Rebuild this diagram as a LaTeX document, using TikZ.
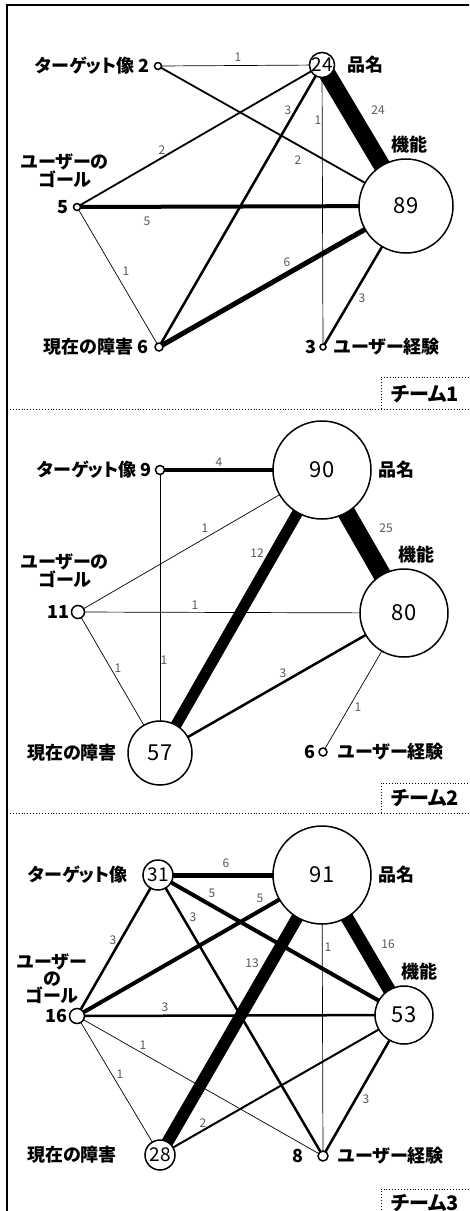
\documentclass[tikz,border=0pt]{standalone}
\usepackage{fontspec}
\setmainfont{Noto Sans CJK JP}[RawFeature={+palt}]
\pgfdeclarelayer{edges}
\pgfsetlayers{edges,main}
\newcounter{labc}
\newcommand\elab[3]{\stepcounter{labc}\node[elab] (lab\arabic{labc}) at (#1,#2) {#3};}
\tikzset{
  cnode/.style={circle, draw, line width=1.5pt, fill=white, inner sep=0pt, minimum size=#1},
  bignum/.style={font=\fontsize{22}{22}\selectfont},
  midnum/.style={font=\fontsize{19}{19}\selectfont},
  nlab/.style={font=\fontsize{18}{18}\selectfont\bfseries, inner sep=0pt, align=center},
  elab/.style={font=\fontsize{12}{12}\selectfont, text=black!65, inner sep=0pt},
  team/.style={font=\fontsize{20}{20}\selectfont\bfseries, inner sep=0pt},
  e/.style={line width=#1, line cap=butt},
  sep/.style={dotted, line width=0.9pt},
}
\begin{document}
\begin{tikzpicture}[x=1pt,y=-1pt]
\useasboundingbox (0,0) rectangle (469,1211);
\clip (0,0) rectangle (469,1211);
\begin{pgfonlayer}{edges}
\fill[white] (0,0) rectangle (469,1211);
\end{pgfonlayer}
% frame
\draw[line width=1.4pt] (7,1230) -- (7,5) -- (480,5);
\draw[sep] (7,409) -- (480,409);
\draw[sep] (7,813) -- (480,813);
\draw[sep] (381,409) -- (381,377) -- (480,377);
\draw[sep] (381,813) -- (381,783) -- (480,783);
\draw[sep] (381,1230) -- (381,1189) -- (480,1189);
\node[team] (tm1) at (425,394) {チーム1};
\node[team] (tm2) at (425,798) {チーム2};
\node[team] (tm3) at (425,1203) {チーム3};

% ---------- Team 1 ----------
\node[cnode=7pt]  (T1) at (158,66) {};
\node[cnode=24pt, midnum] (P1) at (322,65) {24};
\node[cnode=94pt, bignum] (F1) at (406,206) {89};
\node[cnode=7pt]  (G1) at (77,207) {};
\node[cnode=8pt]  (C1) at (159,347) {};
\node[cnode=6pt]  (E1) at (323,347) {};
\node[nlab, anchor=east] (T1l) at (150,66) {ターゲット像 2};
\node[nlab, anchor=west] (P1l) at (347,65) {品名};
\node[nlab] (F1l) at (409,145) {機能};
\node[nlab] (G1l) at (65,171) {ユーザーの\\ゴール};
\node[nlab, anchor=east] (G1n) at (69,207) {5};
\node[nlab, anchor=east] (C1l) at (149,347) {現在の障害 6};
\node[nlab, anchor=east] (E1n) at (317,347) {3};
\node[nlab, anchor=west] (E1l) at (334,347) {ユーザー経験};
\begin{pgfonlayer}{edges}
\draw[e=0.7pt] (T1.center) -- (P1.center);
\draw[e=1.8pt] (T1.center) -- (F1.center);
\draw[e=1.8pt] (G1.center) -- (P1.center);
\draw[e=4pt]   (G1.center) -- (F1.center);
\draw[e=0.7pt] (G1.center) -- (C1.center);
\draw[e=2.5pt] (C1.center) -- (P1.center);
\draw[e=5pt]   (C1.center) -- (F1.center);
\draw[e=17pt]  (P1.center) -- (F1.center);
\draw[e=0.7pt] (P1.center) -- (E1.center);
\draw[e=2.5pt] (F1.center) -- (E1.center);
\end{pgfonlayer}
\elab{238}{57}{1}
\elab{298}{160}{2}
\elab{162}{150}{2}
\elab{147}{221}{5}
\elab{126}{271}{1}
\elab{288}{110}{3}
\elab{287}{262}{6}
\elab{378}{110}{24}
\elab{318}{120}{1}
\elab{362}{298}{3}

% ---------- Team 2 ----------
\node[cnode=9pt]  (T2) at (160,470) {};
\node[cnode=98pt, bignum] (P2) at (322,470) {90};
\node[cnode=88pt, bignum] (F2) at (404,613) {80};
\node[cnode=13pt] (G2) at (78,612) {};
\node[cnode=64pt, bignum] (C2) at (160,753) {57};
\node[cnode=8pt]  (E2) at (323,752) {};
\node[nlab, anchor=east] (T2l) at (152,470) {ターゲット像 9};
\node[nlab, anchor=west] (P2l) at (378,470) {品名};
\node[nlab] (F2l) at (416,555) {機能};
\node[nlab] (G2l) at (65,571) {ユーザーの\\ゴール};
\node[nlab, anchor=east] (G2n) at (70,612) {11};
\node[nlab, anchor=east] (C2l) at (117,753) {現在の障害};
\node[nlab, anchor=east] (E2n) at (316,752) {6};
\node[nlab, anchor=west] (E2l) at (338,752) {ユーザー経験};
\begin{pgfonlayer}{edges}
\draw[e=3.5pt] (T2.center) -- (P2.center);
\draw[e=0.7pt] (T2.center) -- (C2.center);
\draw[e=0.7pt] (G2.center) -- (P2.center);
\draw[e=0.7pt] (G2.center) -- (F2.center);
\draw[e=0.7pt] (G2.center) -- (C2.center);
\draw[e=18pt]  (P2.center) -- (F2.center);
\draw[e=11pt]  (P2.center) -- (C2.center);
\draw[e=2.5pt] (C2.center) -- (F2.center);
\draw[e=0.7pt] (F2.center) -- (E2.center);
\end{pgfonlayer}
\elab{219}{462}{4}
\elab{164}{660}{1}
\elab{205}{528}{1}
\elab{195}{605}{1}
\elab{118}{668}{1}
\elab{386}{528}{25}
\elab{257}{553}{12}
\elab{283}{673}{3}
\elab{358}{707}{1}

% ---------- Team 3 ----------
\node[cnode=30pt, midnum] (T3) at (158,875) {31};
\node[cnode=98pt, bignum] (P3) at (322,875) {91};
\node[cnode=58pt, bignum] (F3) at (404,1015) {53};
\node[cnode=15pt] (G3) at (77,1016) {};
\node[cnode=30pt, midnum] (C3) at (160,1155) {28};
\node[cnode=10pt] (E3) at (323,1156) {};
\node[nlab, anchor=east] (T3l) at (128,875) {ターゲット像};
\node[nlab, anchor=west] (P3l) at (378,875) {品名};
\node[nlab] (F3l) at (419,972) {機能};
\node[nlab, font=\fontsize{18}{15}\selectfont\bfseries] (G3l) at (52,979) {ユーザー\\の\\ゴール};
\node[nlab, anchor=east] (G3n) at (68,1016) {16};
\node[nlab, anchor=east] (C3l) at (117,1155) {現在の障害};
\node[nlab, anchor=east] (E3n) at (304,1156) {8};
\node[nlab, anchor=west] (E3l) at (338,1156) {ユーザー経験};
\begin{pgfonlayer}{edges}
\draw[e=5pt]   (T3.center) -- (P3.center);
\draw[e=4pt]   (T3.center) -- (F3.center);
\draw[e=2.5pt] (T3.center) -- (G3.center);
\draw[e=2.5pt] (T3.center) -- (E3.center);
\draw[e=4pt]   (G3.center) -- (P3.center);
\draw[e=2.5pt] (G3.center) -- (F3.center);
\draw[e=0.7pt] (G3.center) -- (E3.center);
\draw[e=0.7pt] (G3.center) -- (C3.center);
\draw[e=12pt]  (P3.center) -- (C3.center);
\draw[e=13pt]  (P3.center) -- (F3.center);
\draw[e=0.7pt] (P3.center) -- (E3.center);
\draw[e=2pt]   (C3.center) -- (F3.center);
\draw[e=2.5pt] (F3.center) -- (E3.center);
\end{pgfonlayer}
\elab{226}{863}{6}
\elab{212}{893}{5}
\elab{113}{940}{3}
\elab{193}{917}{3}
\elab{260}{898}{5}
\elab{165}{1007}{3}
\elab{143}{1045}{1}
\elab{120}{1074}{1}
\elab{252}{963}{13}
\elab{388}{944}{16}
\elab{328}{947}{1}
\elab{203}{1123}{2}
\elab{366}{1099}{3}
\end{tikzpicture}
\end{document}
